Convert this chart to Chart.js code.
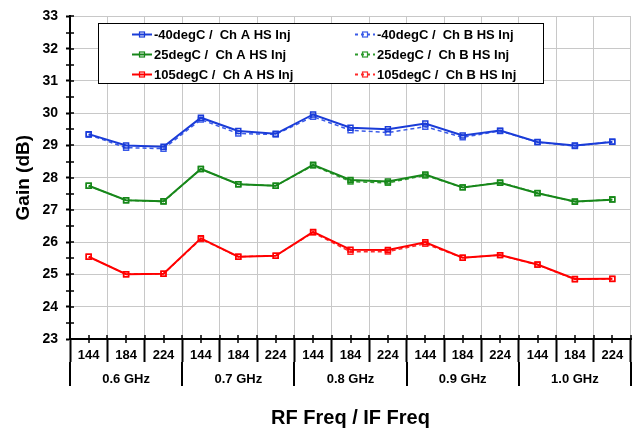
<!DOCTYPE html>
<html>
<head>
<meta charset="utf-8">
<script src="https://cdn.jsdelivr.net/npm/chart.js@4.4.1/dist/chart.umd.min.js"></script>
<style>
  html, body { margin: 0; padding: 0; background: #fff; }
</style>
</head>
<body>
<canvas id="gainChart" width="639" height="434"></canvas>
<script>
// IF freq per RF group, and the RF groups themselves
const ifFreqs = ['144', '184', '224', '144', '184', '224', '144', '184', '224', '144', '184', '224', '144', '184', '224'];
const rfGroups = ['0.6 GHz', '0.7 GHz', '0.8 GHz', '0.9 GHz', '1.0 GHz'];

// gain (dB)
const gainM40A = [29.35, 29.00, 28.96, 29.86, 29.45, 29.36, 29.96, 29.55, 29.50, 29.68, 29.31, 29.46, 29.11, 29.00, 29.11];
const gainM40B = [29.33, 28.93, 28.90, 29.80, 29.37, 29.34, 29.89, 29.47, 29.40, 29.58, 29.25, 29.45, 29.10, 28.98, 29.12];
const gain25A = [27.75, 27.30, 27.27, 28.27, 27.80, 27.75, 28.40, 27.93, 27.88, 28.10, 27.70, 27.84, 27.52, 27.26, 27.32];
const gain25B = [27.75, 27.30, 27.26, 28.27, 27.80, 27.75, 28.38, 27.88, 27.84, 28.07, 27.70, 27.85, 27.53, 27.25, 27.33];
const gain105A = [25.55, 25.01, 25.02, 26.12, 25.55, 25.58, 26.32, 25.77, 25.76, 26.00, 25.52, 25.60, 25.31, 24.86, 24.87];
const gain105B = [25.55, 25.01, 25.02, 26.10, 25.55, 25.58, 26.30, 25.70, 25.71, 25.95, 25.52, 25.60, 25.30, 24.85, 24.86];

const yMin = 23;
const yMax = 33;

const FONT = 'Arial, "Liberation Sans", sans-serif';
Chart.defaults.font.family = FONT;
Chart.defaults.color = '#000';

function series(label, data, color, dashed) {
  return {
    label: label,
    data: data,
    borderColor: color,
    backgroundColor: color,
    borderWidth: dashed ? 1.5 : 2,
    borderDash: dashed ? [4, 3] : [],
    tension: 0,
    fill: false,
    pointStyle: 'rect',
    pointRadius: 3.5,
    pointBorderWidth: 1.5,
    pointBorderColor: color,
    pointBackgroundColor: 'rgba(255,255,255,0)'
  };
}

// small ticks crossing the axes (minor y ticks, x ticks at the points)
const axisMarks = {
  id: 'axisMarks',
  afterDraw(chart) {
    const { ctx, scales: { x, y } } = chart;
    const ax = y.right;
    const ay = x.top;
    ctx.save();
    ctx.strokeStyle = '#000';
    ctx.lineWidth = 1.5;
    ctx.beginPath();
    for (let v = yMin; v <= yMax; v += 0.5) {
      const py = Math.round(y.getPixelForValue(v));
      ctx.moveTo(Number.isInteger(v) ? ax : ax - 4, py);
      ctx.lineTo(ax + 4, py);
    }
    for (let i = 0; i < ifFreqs.length; i++) {
      const px = Math.round(x.getPixelForValue(i));
      ctx.moveTo(px, ay - 4);
      ctx.lineTo(px, ay + 4);
      const bx = Math.round(x.getPixelForValue(i) + (x.getPixelForValue(1) - x.getPixelForValue(0)) / 2);
      ctx.moveTo(bx, ay - 4);
      ctx.lineTo(bx, ay);
    }
    ctx.stroke();
    ctx.restore();
  }
};

// boxed two-column legend
const boxLegend = {
  id: 'boxLegend',
  afterDraw(chart) {
    const ctx = chart.ctx;
    const sets = chart.data.datasets;
    ctx.save();
    ctx.fillStyle = '#fff';
    ctx.fillRect(98, 23, 445, 60);
    ctx.strokeStyle = '#000';
    ctx.lineWidth = 1;
    ctx.strokeRect(98.5, 23.5, 445, 60);
    ctx.font = 'bold 13px ' + FONT;
    ctx.textBaseline = 'middle';
    sets.forEach((ds, i) => {
      const col = i % 2;
      const row = Math.floor(i / 2);
      const sx = col ? 355 : 132;
      const sy = Math.round(33.5 + row * 20.3) + 0.5;
      ctx.strokeStyle = ds.borderColor;
      ctx.lineWidth = 2;
      ctx.setLineDash(ds.borderDash.length ? [3, 3] : []);
      ctx.beginPath();
      ctx.moveTo(sx, sy);
      ctx.lineTo(sx + 20, sy);
      ctx.stroke();
      ctx.setLineDash([]);
      ctx.lineWidth = 1.2;
      ctx.strokeRect(sx + 7.5, sy - 2.5, 5, 5);
      ctx.fillStyle = '#000';
      ctx.fillText(ds.label, sx + 22, sy + 1);
    });
    ctx.restore();
  }
};

new Chart(document.getElementById('gainChart').getContext('2d'), {
  type: 'line',
  data: {
    labels: ifFreqs,
    datasets: [
      series('-40degC /  Ch A HS Inj', gainM40A, '#1a3cd8', false),
      series('-40degC /  Ch B HS Inj', gainM40B, '#3a5ae8', true),
      series('25degC /  Ch A HS Inj', gain25A, '#17871a', false),
      series('25degC /  Ch B HS Inj', gain25B, '#2c9a2c', true),
      series('105degC /  Ch A HS Inj', gain105A, '#ff0000', false),
      series('105degC /  Ch B HS Inj', gain105B, '#ff2a2a', true)
    ]
  },
  options: {
    responsive: false,
    animation: false,
    layout: { padding: { top: 9, right: 8, left: 0, bottom: 0 } },
    plugins: {
      legend: { display: false },
      tooltip: { enabled: false }
    },
    scales: {
      x: {
        type: 'category',
        position: 'bottom',
        offset: true,
        grid: {
          offset: true,
          color: '#c8c8c8',
          lineWidth: 1,
          tickLength: 23,
          tickColor: '#000',
          tickWidth: 2
        },
        border: { color: '#000', width: 2 },
        ticks: {
          font: { size: 13, weight: 'bold' },
          color: '#000',
          padding: -14,
          maxRotation: 0,
          autoSkip: false
        },
        afterFit: s => { s.height = 23; }
      },
      x2: {
        type: 'category',
        position: 'bottom',
        labels: rfGroups,
        offset: true,
        grid: {
          offset: true,
          drawOnChartArea: false,
          tickLength: 24,
          color: '#000',
          tickColor: '#000',
          tickWidth: 2,
          lineWidth: 2
        },
        border: { display: false },
        ticks: {
          font: { size: 13, weight: 'bold' },
          color: '#000',
          padding: -14,
          maxRotation: 0
        },
        title: {
          display: true,
          text: 'RF Freq / IF Freq',
          font: { size: 20, weight: 'bold' },
          color: '#000',
          padding: { top: 0, bottom: 4 }
        },
        afterFit: s => { s.height = 72; }
      },
      y: {
        min: yMin,
        max: yMax,
        ticks: {
          stepSize: 1,
          font: { size: 14, weight: 'bold' },
          color: '#000',
          padding: 8
        },
        grid: {
          color: '#c8c8c8',
          lineWidth: 1,
          tickLength: 4,
          tickColor: '#000',
          tickWidth: 2
        },
        border: { color: '#000', width: 2 },
        title: {
          display: true,
          text: 'Gain (dB)',
          font: { size: 19, weight: 'bold' },
          color: '#000',
          padding: { top: 12, bottom: 0 }
        },
        afterFit: s => { s.width = 70; }
      }
    }
  },
  plugins: [axisMarks, boxLegend]
});
</script>
</body>
</html>
